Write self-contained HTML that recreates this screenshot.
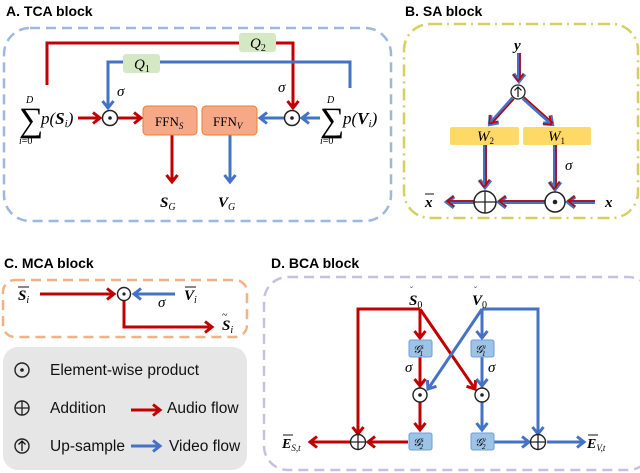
<!DOCTYPE html>
<html><head><meta charset="utf-8"><style>
html,body{margin:0;padding:0;background:#fff;}
svg{display:block;}
text{font-family:"Liberation Serif",serif;}
.t{font-family:"Liberation Sans",sans-serif;font-weight:bold;font-size:14px;}
.l{font-family:"Liberation Sans",sans-serif;font-size:15.5px;fill:#111;}
.m{font-style:italic;font-size:15px;}
</style></head><body>
<svg width="640" height="473" viewBox="0 0 640 473" xmlns="http://www.w3.org/2000/svg">
<defs>
<marker id="ar" markerUnits="userSpaceOnUse" markerWidth="14" markerHeight="14" refX="9" refY="7" orient="auto"><path d="M2,1.5 L9,7 L2,12.5" fill="none" stroke="#c00000" stroke-width="3"/></marker>
<marker id="ab" markerUnits="userSpaceOnUse" markerWidth="14" markerHeight="14" refX="9" refY="7" orient="auto"><path d="M2,1.5 L9,7 L2,12.5" fill="none" stroke="#4472c4" stroke-width="3"/></marker>
<marker id="am" markerUnits="userSpaceOnUse" markerWidth="14" markerHeight="14" refX="9" refY="7" orient="auto"><path d="M2,1.5 L9,7 L2,12.5" fill="none" stroke="#4472c4" stroke-width="4"/><path d="M2,2.5 L9,8 L2,13" fill="none" stroke="#c00000" stroke-width="1.5"/></marker>
</defs>

<!-- A -->
<text class="t" x="6" y="16">A. TCA block</text>
<rect x="4" y="28" width="387" height="193" rx="26" fill="none" stroke="#9db8e0" stroke-width="2.5" stroke-dasharray="10,6"/>
<g fill="none" stroke-width="3">
<path d="M47,85 V43 H293 V108" stroke="#c00000" marker-end="url(#ar)"/>
<path d="M350,88 V62 H108 V108" stroke="#4472c4" marker-end="url(#ab)"/>
<path d="M78,118 H100" stroke="#c00000" marker-end="url(#ar)"/>
<path d="M118,118 H141" stroke="#c00000" marker-end="url(#ar)"/>
<path d="M320,118 H302" stroke="#4472c4" marker-end="url(#ab)"/>
<path d="M284,118 H260" stroke="#4472c4" marker-end="url(#ab)"/>
<path d="M172,135 V182" stroke="#c00000" marker-end="url(#ar)"/>
<path d="M230,135 V182" stroke="#4472c4" marker-end="url(#ab)"/>
</g>
<rect x="239" y="33" width="37" height="19" rx="3" fill="#d5e8c4"/>
<text class="m" x="250" y="48">Q<tspan font-size="10" dy="3" font-style="normal">2</tspan></text>
<rect x="123" y="54" width="37" height="19" rx="3" fill="#d5e8c4"/>
<text class="m" x="134" y="69">Q<tspan font-size="10" dy="3" font-style="normal">1</tspan></text>
<circle cx="110" cy="118" r="7.5" fill="#fff" stroke="#222" stroke-width="1.5"/><circle cx="110" cy="118" r="1.8" fill="#222"/>
<circle cx="292" cy="118" r="7.5" fill="#fff" stroke="#222" stroke-width="1.5"/><circle cx="292" cy="118" r="1.8" fill="#222"/>
<text class="m" x="117" y="96" font-size="13">σ</text>
<text class="m" x="278" y="92" font-size="13">σ</text>
<rect x="143" y="106" width="54" height="29" rx="4" fill="#f7a987" stroke="#ed7d31" stroke-width="1"/>
<text x="155" y="126" font-size="13">FFN<tspan font-size="9" dy="3" font-style="italic">S</tspan></text>
<rect x="202" y="106" width="55" height="29" rx="4" fill="#f7a987" stroke="#ed7d31" stroke-width="1"/>
<text x="213" y="126" font-size="13">FFN<tspan font-size="9" dy="3" font-style="italic">V</tspan></text>
<text x="19" y="131" font-size="34">∑</text>
<text x="26" y="103" font-size="10" font-style="italic">D</text>
<text x="19" y="144" font-size="10"><tspan font-style="italic">i</tspan>=0</text>
<text x="41" y="124" font-size="17" font-style="italic">p(<tspan font-weight="bold">S</tspan><tspan font-size="11" dy="3">i</tspan><tspan dy="-3">)</tspan></text>
<text x="320" y="131" font-size="34">∑</text>
<text x="327" y="103" font-size="10" font-style="italic">D</text>
<text x="320" y="144" font-size="10"><tspan font-style="italic">i</tspan>=0</text>
<text x="343" y="124" font-size="17" font-style="italic">p(<tspan font-weight="bold">V</tspan><tspan font-size="11" dy="3">i</tspan><tspan dy="-3">)</tspan></text>
<text x="160" y="207" font-size="15" font-weight="bold" font-style="italic">S<tspan font-size="10" dy="3" font-weight="normal">G</tspan></text>
<text x="218" y="207" font-size="15" font-weight="bold" font-style="italic">V<tspan font-size="10" dy="3" font-weight="normal">G</tspan></text>

<!-- B -->
<text class="t" x="405" y="16">B. SA block</text>
<rect x="404" y="24" width="234" height="194" rx="26" fill="none" stroke="#d4d060" stroke-width="2.5" stroke-dasharray="12,5,2,5"/>
<g fill="none">
<g stroke="#4472c4" stroke-width="4">
<path d="M519,53 V81" marker-end="url(#am)"/>
<path d="M513,98 L490,124" marker-end="url(#am)"/>
<path d="M523,98 L552,124" marker-end="url(#am)"/>
<path d="M485,145 V187" marker-end="url(#am)"/>
<path d="M555,145 V189" marker-end="url(#am)"/>
<path d="M595,202 H568" marker-end="url(#am)"/>
<path d="M545,202 H499" marker-end="url(#am)"/>
<path d="M474,202 H447" marker-end="url(#am)"/>
</g>
<g stroke="#c00000" stroke-width="1.5">
<path d="M520,53 V80"/><path d="M514,99 L491,124"/><path d="M524,97 L553,123"/>
<path d="M486,145 V186"/><path d="M556,145 V188"/><path d="M595,201 H568"/><path d="M545,201 H499"/><path d="M474,201 H448"/>
</g></g>
<circle cx="518" cy="92" r="7" fill="#fff" stroke="#222" stroke-width="1.3"/>
<path d="M518,97 V87 M514.5,90.5 L518,87 L521.5,90.5" fill="none" stroke="#111" stroke-width="1.2"/>
<rect x="450" y="127" width="69" height="18" rx="2" fill="#ffd966"/>
<rect x="523" y="127" width="68" height="18" rx="2" fill="#ffd966"/>
<text class="m" x="477" y="141" font-size="13">W<tspan font-size="9" dy="3" font-style="normal">2</tspan></text>
<text class="m" x="548" y="141" font-size="13">W<tspan font-size="9" dy="3" font-style="normal">1</tspan></text>
<text class="m" x="565" y="170" font-size="13">σ</text>
<circle cx="485" cy="202" r="11" fill="#fff" stroke="#222" stroke-width="1.5"/>
<path d="M474,202 H496 M485,191 V213" stroke="#222" stroke-width="1.3"/>
<circle cx="555" cy="202" r="10" fill="#fff" stroke="#222" stroke-width="1.5"/><circle cx="555" cy="202" r="2.3" fill="#222"/>
<text class="m" x="514" y="50" font-size="16" font-weight="bold">y</text>
<text class="m" x="605" y="207" font-size="16" font-weight="bold">x</text>
<text class="m" x="425" y="207" font-size="16" font-weight="bold">x</text>
<path d="M425,194 H434" stroke="#111" stroke-width="1"/>

<!-- C -->
<text class="t" x="4" y="268">C. MCA block</text>
<rect x="3" y="280" width="244" height="57" rx="12" fill="none" stroke="#f4b183" stroke-width="2.5" stroke-dasharray="10,6"/>
<g fill="none" stroke-width="3">
<path d="M40,294 H114" stroke="#c00000" marker-end="url(#ar)"/>
<path d="M175,294 H134" stroke="#4472c4" marker-end="url(#ab)"/>
<path d="M124,301 V327 H212" stroke="#c00000" marker-end="url(#ar)"/>
</g>
<circle cx="124" cy="294" r="6.5" fill="#fff" stroke="#222" stroke-width="1.4"/><circle cx="124" cy="294" r="1.6" fill="#222"/>
<text class="m" x="158" y="307" font-size="12">σ</text>
<text x="18" y="300" font-size="15" font-weight="bold" font-style="italic">S<tspan font-size="10" dy="3" font-weight="normal">i</tspan></text>
<path d="M18,287 H29" stroke="#111"/>
<text x="184" y="300" font-size="15" font-weight="bold" font-style="italic">V<tspan font-size="10" dy="3" font-weight="normal">i</tspan></text>
<path d="M185,287 H196" stroke="#111"/>
<text x="222" y="330" font-size="15" font-weight="bold" font-style="italic">S<tspan font-size="10" dy="3" font-weight="normal">i</tspan></text>
<text x="222" y="318" font-size="10">~</text>
<rect x="3" y="347" width="244" height="123" rx="15" fill="#e6e6e6"/>
<circle cx="22" cy="370" r="7" fill="none" stroke="#222" stroke-width="1.4"/><circle cx="22" cy="370" r="1.8" fill="#222"/>
<text class="l" x="50" y="375">Element-wise product</text>
<circle cx="22" cy="408" r="7" fill="none" stroke="#222" stroke-width="1.4"/><path d="M15,408 H29 M22,401 V415" stroke="#222" stroke-width="1.3"/>
<text class="l" x="50" y="413">Addition</text>
<circle cx="22" cy="446" r="7" fill="none" stroke="#222" stroke-width="1.4"/><path d="M22,451 V441 M18.5,444.5 L22,441 L25.5,444.5" fill="none" stroke="#111" stroke-width="1.3"/>
<text class="l" x="50" y="451">Up-sample</text>
<path d="M131,410 H160" stroke="#c00000" stroke-width="3" marker-end="url(#ar)"/>
<text class="l" x="167" y="413">Audio flow</text>
<path d="M131,446 H160" stroke="#4472c4" stroke-width="3" marker-end="url(#ab)"/>
<text class="l" x="169" y="451">Video flow</text>

<!-- D -->
<text class="t" x="271" y="268">D. BCA block</text>
<rect x="264" y="277" width="388" height="193" rx="24" fill="none" stroke="#c5c0e6" stroke-width="2.5" stroke-dasharray="10,6"/>
<g fill="none" stroke-width="3">
<path d="M420,309 H358 V434" stroke="#c00000" marker-end="url(#ar)"/>
<path d="M420,309 V338" stroke="#c00000" marker-end="url(#ar)"/>
<path d="M420,357 V386" stroke="#c00000" marker-end="url(#ar)"/>
<path d="M420,402 V430" stroke="#c00000" marker-end="url(#ar)"/>
<path d="M408,442 H368" stroke="#c00000" marker-end="url(#ar)"/>
<path d="M350,442 H310" stroke="#c00000" marker-end="url(#ar)"/>
<path d="M420,309 L475,389" stroke="#c00000" marker-end="url(#ar)"/>
<path d="M482,309 H538 V434" stroke="#4472c4" marker-end="url(#ab)"/>
<path d="M482,309 V338" stroke="#4472c4" marker-end="url(#ab)"/>
<path d="M482,357 V386" stroke="#4472c4" marker-end="url(#ab)"/>
<path d="M482,402 V430" stroke="#4472c4" marker-end="url(#ab)"/>
<path d="M494,442 H529" stroke="#4472c4" marker-end="url(#ab)"/>
<path d="M547,442 H584" stroke="#4472c4" marker-end="url(#ab)"/>
<path d="M482,309 L428,389" stroke="#4472c4" marker-end="url(#ab)"/>
</g>
<g fill="#9dc3e6" stroke="#6f9fd8" stroke-width="1">
<rect x="409" y="340" width="23" height="17" rx="2"/><rect x="471" y="340" width="23" height="17" rx="2"/>
<rect x="409" y="433" width="23" height="17" rx="2"/><rect x="471" y="433" width="23" height="17" rx="2"/>
</g>
<g font-size="11" font-style="italic">
<text x="413" y="353">𝒢<tspan font-size="7" dy="-4">s</tspan><tspan font-size="7" dx="-4" dy="7">1</tspan></text>
<text x="475" y="353">𝒢<tspan font-size="7" dy="-4">v</tspan><tspan font-size="7" dx="-4" dy="7">1</tspan></text>
<text x="413" y="446">𝒢<tspan font-size="7" dy="-4">s</tspan><tspan font-size="7" dx="-4" dy="7">2</tspan></text>
<text x="475" y="446">𝒢<tspan font-size="7" dy="-4">v</tspan><tspan font-size="7" dx="-4" dy="7">2</tspan></text>
</g>
<text class="m" x="405" y="372" font-size="12">σ</text>
<text class="m" x="488" y="372" font-size="12">σ</text>
<circle cx="420" cy="395" r="7" fill="#fff" stroke="#222" stroke-width="1.4"/><circle cx="420" cy="395" r="1.8" fill="#222"/>
<circle cx="482" cy="395" r="7" fill="#fff" stroke="#222" stroke-width="1.4"/><circle cx="482" cy="395" r="1.8" fill="#222"/>
<circle cx="358" cy="442" r="7.5" fill="#fff" stroke="#222" stroke-width="1.4"/><path d="M350.5,442 H365.5 M358,434.5 V449.5" stroke="#222" stroke-width="1.3"/>
<circle cx="538" cy="442" r="7.5" fill="#fff" stroke="#222" stroke-width="1.4"/><path d="M530.5,442 H545.5 M538,434.5 V449.5" stroke="#222" stroke-width="1.3"/>
<text x="409" y="305" font-size="15" font-weight="bold" font-style="italic">S<tspan font-size="10" dy="3" font-weight="normal" font-style="normal">0</tspan></text>
<text x="410" y="293" font-size="9">˘</text>
<text x="472" y="305" font-size="15" font-weight="bold" font-style="italic">V<tspan font-size="10" dy="3" font-weight="normal" font-style="normal">0</tspan></text>
<text x="474" y="293" font-size="9">˘</text>
<text x="282" y="448" font-size="14" font-weight="bold" font-style="italic">E<tspan font-size="9" dy="3" font-weight="normal">S,t</tspan></text>
<path d="M283,435 H293" stroke="#111"/>
<text x="587" y="448" font-size="14" font-weight="bold" font-style="italic">E<tspan font-size="9" dy="3" font-weight="normal">V,t</tspan></text>
<path d="M588,435 H598" stroke="#111"/>
</svg>
</body></html>
